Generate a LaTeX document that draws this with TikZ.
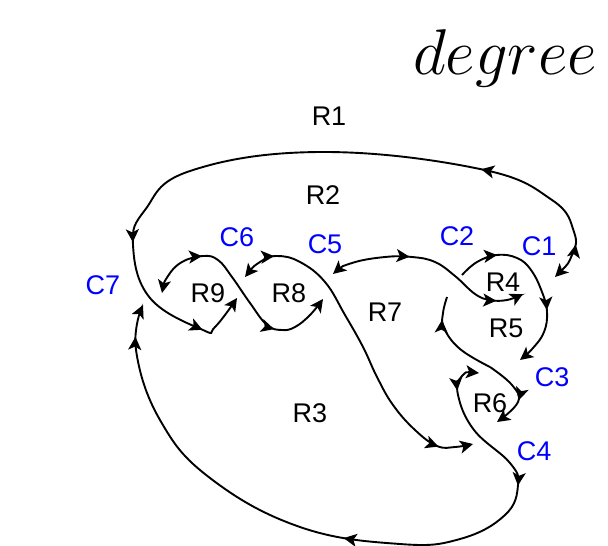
\documentclass[tikz,border=0pt]{standalone}
\usepackage{fontspec}
\setsansfont{Liberation Sans}
\usepackage{graphicx}
\usepackage{tikz}
\usetikzlibrary{arrows.meta,decorations.markings}

\begin{document}
\begin{tikzpicture}[
x=0.5pt, y=-0.5pt,
>={Stealth[length=6.5pt,width=6.5pt,inset=1.6pt]},
strand/.style={line width=0.95pt},
mid/.style={postaction={decorate,decoration={markings,
    mark=at position #1 with {\arrow{>}}}}},
region/.style={font=\sffamily\fontsize{13.5}{16}\selectfont},
crossing/.style={region,text=blue}
]
\useasboundingbox (0,0) rectangle (608,545);

% title
\node (title) at (505,58) {\scalebox{1.3}{\Huge $degree$}};

% strands, each one runs from under-crossing to under-crossing
\draw[strand,<->,mid=0.053,mid=0.231,mid=0.763,mid=0.928]
  plot[smooth,tension=0.7] coordinates {(555,277) (572,255) (574,232)
  (552,200) (480,169) (320,152) (190,171) (145,210) (133,245) (150,298)
  (203,330) (215,327) (237,298)};
\draw[strand,<->,mid=0.11,mid=0.895]
  plot[smooth,tension=0.7] coordinates {(245,277) (260,262) (277,256) (300,262)
  (325,282) (345,315) (363,347) (377,377) (393,405) (415,430) (437,446)
  (455,447) (473,444)};
\draw[strand,<->,mid=0.26,mid=0.73]
  plot[smooth,tension=0.7] coordinates {(162,293) (168,276) (182,262) (203,256)
  (218,260) (232,277) (250,303) (267,325) (282,330) (295,327) (310,315)
  (323,299)};
\draw[strand,<->,mid=0.385,mid=0.866]
  plot[smooth,tension=0.7] coordinates {(333,274) (352,263) (385,257) (412,257)
  (435,262) (455,276) (475,294) (490,300) (507,300) (523,294)};
\draw[strand,->,mid=0.225,mid=0.675]
  plot[smooth,tension=0.7] coordinates {(462,275) (477,262) (497,255) (517,258)
  (531,270) (542,292) (547,312) (544,332) (533,348) (520,360)};
\draw[strand,<->,mid=0.048,mid=0.216,mid=0.505,mid=0.953]
  plot[smooth,tension=0.7] coordinates {(479,373) (462,376) (458,395)
  (474,430) (510,463) (518,485) (505,515) (460,539) (400,544) (300,527)
  (210,478) (160,420) (136,350) (143,305)};
\draw[strand,mid=0.75]
  plot[smooth,tension=0.7] coordinates {(490,367) (460,349) (444,328)
  (443,313) (447,297)};
\draw[strand,->,mid=0.6]
  plot[smooth,tension=0.7] coordinates {(490,367) (512,385) (518,402)
  (497,422)};

% crossings
\node[crossing] (c1) at (539,246) {C1};
\node[crossing] (c2) at (457,236) {C2};
\node[crossing] (c3) at (552,377) {C3};
\node[crossing] (c4) at (534,451) {C4};
\node[crossing] (c5) at (325,244) {C5};
\node[crossing] (c6) at (237,237) {C6};
\node[crossing] (c7) at (103,285) {C7};

% regions
\node[region] (r1) at (329,116) {R1};
\node[region] (r2) at (323,195) {R2};
\node[region] (r3) at (310,413) {R3};
\node[region] (r4) at (503,282) {R4};
\node[region] (r5) at (506,328) {R5};
\node[region] (r6) at (490,403) {R6};
\node[region] (r7) at (385,312) {R7};
\node[region] (r8) at (289,293) {R8};
\node[region] (r9) at (208,293) {R9};

\end{tikzpicture}
\end{document}
